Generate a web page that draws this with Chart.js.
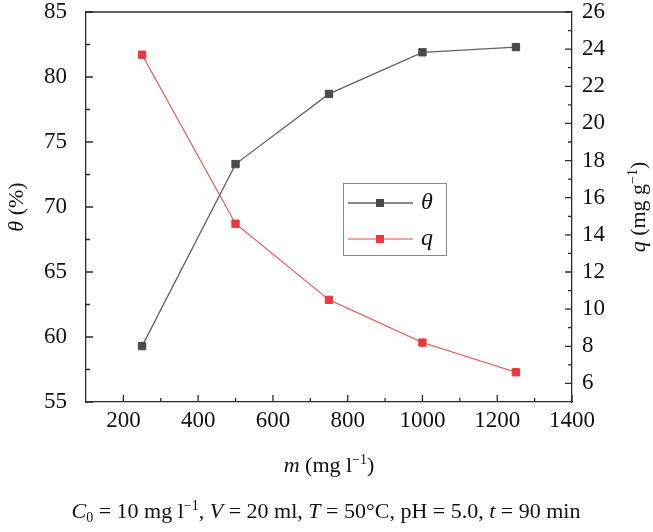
<!DOCTYPE html>
<html lang="en">
<head>
    <meta charset="UTF-8">
    <title>theta and q vs m</title>
    <script src="https://cdn.jsdelivr.net/npm/chart.js"></script>
    <style>
        body { margin: 0; background: #fff; }
        #wrap { width: 653px; height: 532px; }
    </style>
</head>
<body>
    <div id="wrap"><canvas id="chart" width="653" height="532"></canvas></div>

    <script>
        // data
        const mass = [250, 500, 750, 1000, 1250];
        const theta = [59.3, 73.3, 78.7, 81.9, 82.3];
        const qValues = [23.7, 14.6, 10.5, 8.2, 6.6];

        const xTicks = [200, 400, 600, 800, 1000, 1200, 1400];
        const thetaTicks = [55, 60, 65, 70, 75, 80, 85];
        const qTicks = [6, 8, 10, 12, 14, 16, 18, 20, 22, 24, 26];

        const serif = "'Liberation Serif', 'Times New Roman', serif";
        const axisColor = "#2b2b2b";
        const grayLine = "#626262";
        const grayMark = "#4a4a4a";
        const redLine = "#ea4a4a";
        const redMark = "#e83a3c";

        // draws a run of text pieces (italic / superscript / subscript)
        function richText(ctx, parts, x, y, size) {
            const fontFor = (p) => (p.it ? "italic " : "") + (p.sup || p.sub ? Math.round(size * 0.62) : size) + "px " + serif;
            let total = 0;
            parts.forEach(p => { ctx.font = fontFor(p); total += ctx.measureText(p.t).width; });
            let cx = x - total / 2;
            ctx.textAlign = "left";
            ctx.textBaseline = "alphabetic";
            parts.forEach(p => {
                ctx.font = fontFor(p);
                let dy = 0;
                if (p.sup) dy = -size * 0.38;
                if (p.sub) dy = size * 0.2;
                ctx.fillText(p.t, cx, y + dy);
                cx += ctx.measureText(p.t).width;
            });
        }

        const minorsBetween = (ticks) => ticks.slice(1).map((v, i) => (v + ticks[i]) / 2);

        const decor = {
            id: "decor",
            afterDraw(chart) {
                const ctx = chart.ctx;
                const area = chart.chartArea;
                const sx = chart.scales.x, sy = chart.scales.y, sq = chart.scales.y1;
                ctx.save();
                ctx.strokeStyle = axisColor;
                ctx.lineWidth = 1.3;

                // top frame line
                ctx.beginPath();
                ctx.moveTo(area.left, area.top);
                ctx.lineTo(area.right, area.top);
                ctx.stroke();

                // inward ticks
                ctx.beginPath();
                xTicks.forEach(v => { const p = sx.getPixelForValue(v); ctx.moveTo(p, area.bottom); ctx.lineTo(p, area.bottom - 7); });
                minorsBetween(xTicks).forEach(v => { const p = sx.getPixelForValue(v); ctx.moveTo(p, area.bottom); ctx.lineTo(p, area.bottom - 4); });
                thetaTicks.forEach(v => { const p = sy.getPixelForValue(v); ctx.moveTo(area.left, p); ctx.lineTo(area.left + 7, p); });
                minorsBetween(thetaTicks).forEach(v => { const p = sy.getPixelForValue(v); ctx.moveTo(area.left, p); ctx.lineTo(area.left + 4, p); });
                qTicks.forEach(v => { const p = sq.getPixelForValue(v); ctx.moveTo(area.right, p); ctx.lineTo(area.right - 7, p); });
                minorsBetween(qTicks).forEach(v => { const p = sq.getPixelForValue(v); ctx.moveTo(area.right, p); ctx.lineTo(area.right - 4, p); });
                ctx.stroke();

                // axis titles and caption
                ctx.fillStyle = "#111";
                richText(ctx, [{ t: "m", it: true }, { t: " (mg l" }, { t: "\u22121", sup: true }, { t: ")" }], (area.left + area.right) / 2, 472, 22);
                richText(ctx, [
                    { t: "C", it: true }, { t: "0", sub: true }, { t: " = 10 mg l" }, { t: "\u22121", sup: true },
                    { t: ", " }, { t: "V", it: true }, { t: " = 20 ml, " }, { t: "T", it: true },
                    { t: " = 50\u00b0C, pH = 5.0, " }, { t: "t", it: true }, { t: " = 90 min" }
                ], 326, 518, 22);

                ctx.save();
                ctx.translate(23, (area.top + area.bottom) / 2);
                ctx.rotate(-Math.PI / 2);
                richText(ctx, [{ t: "\u03b8", it: true }, { t: " (%)" }], 0, 0, 22);
                ctx.restore();

                ctx.save();
                ctx.translate(645, (area.top + area.bottom) / 2);
                ctx.rotate(-Math.PI / 2);
                richText(ctx, [{ t: "q", it: true }, { t: " (mg g" }, { t: "\u22121", sup: true }, { t: ")" }], 0, 0, 22);
                ctx.restore();

                // legend box
                const lx = 343, ly = 183, lw = 103, lh = 72;
                ctx.strokeStyle = "#8a8a8a";
                ctx.lineWidth = 1;
                ctx.strokeRect(lx + 0.5, ly + 0.5, lw, lh);
                const rows = [
                    { ds: chart.data.datasets[0], y: 203 },
                    { ds: chart.data.datasets[1], y: 239 }
                ];
                rows.forEach(r => {
                    ctx.strokeStyle = r.ds.borderColor;
                    ctx.lineWidth = r.ds.borderWidth;
                    ctx.beginPath();
                    ctx.moveTo(348, r.y);
                    ctx.lineTo(413, r.y);
                    ctx.stroke();
                    ctx.fillStyle = r.ds.pointBackgroundColor;
                    ctx.fillRect(376, r.y - 4, 8, 8);
                    ctx.fillStyle = "#111";
                    ctx.font = "italic 24px " + serif;
                    ctx.textAlign = "left";
                    ctx.textBaseline = "middle";
                    ctx.fillText(r.ds.label, 421, r.y);
                });
                ctx.restore();
            }
        };

        const tickFont = { family: serif, size: 23 };
        const plain = v => String(v);
        // fixed axis sizes so the plot area sits where it does in the figure
        const fitX = s => { s.height = 130; s.paddingLeft = 0; s.paddingRight = 0; };
        const fitY = w => s => { s.width = w; s.paddingTop = 0; s.paddingBottom = 0; };

        new Chart(document.getElementById("chart").getContext("2d"), {
            type: "line",
            data: {
                datasets: [
                    {
                        label: "\u03b8",
                        data: mass.map((m, i) => ({ x: m, y: theta[i] })),
                        yAxisID: "y",
                        borderColor: grayLine,
                        borderWidth: 1.3,
                        pointStyle: "rect",
                        pointRadius: 5.2,
                        pointBackgroundColor: grayMark,
                        pointBorderColor: grayMark,
                        pointBorderWidth: 1,
                        tension: 0
                    },
                    {
                        label: "q",
                        data: mass.map((m, i) => ({ x: m, y: qValues[i] })),
                        yAxisID: "y1",
                        borderColor: redLine,
                        borderWidth: 1.1,
                        pointStyle: "rect",
                        pointRadius: 5.2,
                        pointBackgroundColor: redMark,
                        pointBorderColor: redMark,
                        pointBorderWidth: 1,
                        tension: 0
                    }
                ]
            },
            options: {
                responsive: false,
                animation: false,
                devicePixelRatio: 1,
                layout: { padding: { top: 12, left: 0, right: 0, bottom: 0 } },
                plugins: { legend: { display: false }, tooltip: { enabled: false } },
                scales: {
                    x: {
                        type: "linear",
                        min: 100,
                        max: 1400,
                        afterBuildTicks: s => { s.ticks = xTicks.map(v => ({ value: v })); },
                        afterFit: fitX,
                        ticks: { font: tickFont, color: "#111", padding: 5, maxRotation: 0, autoSkip: false, callback: plain },
                        grid: { drawOnChartArea: false, drawTicks: false },
                        border: { color: axisColor, width: 1.3 }
                    },
                    y: {
                        position: "left",
                        min: 55,
                        max: 85,
                        afterBuildTicks: s => { s.ticks = thetaTicks.map(v => ({ value: v })); },
                        afterFit: fitY(86),
                        ticks: { font: tickFont, color: "#111", padding: 19, autoSkip: false, callback: plain },
                        grid: { drawOnChartArea: false, drawTicks: false },
                        border: { color: axisColor, width: 1.3 }
                    },
                    y1: {
                        position: "right",
                        min: 5,
                        max: 26,
                        afterBuildTicks: s => { s.ticks = qTicks.map(v => ({ value: v })); },
                        afterFit: fitY(81),
                        ticks: { font: tickFont, color: "#111", padding: 10, autoSkip: false, callback: plain },
                        grid: { drawOnChartArea: false, drawTicks: false },
                        border: { color: axisColor, width: 1.3 }
                    }
                }
            },
            plugins: [decor]
        });
    </script>
</body>
</html>
